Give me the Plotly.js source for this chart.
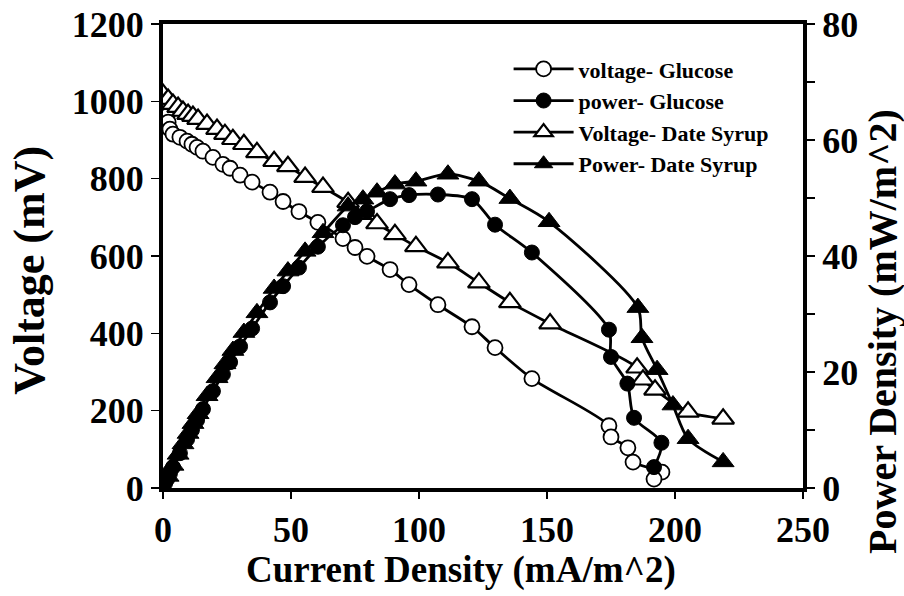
<!DOCTYPE html>
<html>
<head>
<meta charset="utf-8">
<script src="https://cdn.plot.ly/plotly-3.0.1.min.js"></script>
<style>body{margin:0;background:#fff}#chart{width:904px;height:596px}</style>
</head>
<body>
<div id="chart"></div>
<script>
// Current density (mA/m^2) and values
const glucoseCurrent = [0, 0.8, 1.6, 2.0, 2.7, 3.9, 6.6, 9.4, 11.3, 13.3, 15.6, 19.5, 23.4, 26.2, 30.1, 34.8, 41.8, 46.9, 53.1, 60.5, 70.3, 75.0, 79.7, 88.7, 96.1, 107.4, 120.7, 129.7, 144.1, 174.2, 175.0, 181.4, 184.0, 194.7, 191.8];
const glucoseVoltage = [975, 962, 946, 928, 915, 907, 897, 889, 881, 871, 855, 837, 827, 809, 791, 765, 741, 715, 687, 645, 622, 599, 565, 526, 474, 417, 363, 283, 161, 132, 104, 67, 41, 23];
const glucoseVoltageX = [0.8, 1.6, 2.0, 2.7, 3.9, 6.6, 9.4, 11.3, 13.3, 15.6, 19.5, 23.4, 26.2, 30.1, 34.8, 41.8, 46.9, 53.1, 60.5, 70.3, 75.0, 79.7, 88.7, 96.1, 107.4, 120.7, 129.7, 144.1, 174.2, 175.0, 181.6, 183.6, 194.9, 191.8];
const glucosePower = [0, 0.8, 1.5, 1.9, 2.5, 3.6, 6.0, 8.4, 10.0, 11.7, 13.6, 16.7, 19.6, 21.7, 24.4, 27.5, 32.0, 34.8, 38.0, 41.6, 45.3, 46.7, 47.7, 49.8, 50.5, 50.6, 49.8, 45.4, 40.6, 27.3, 22.6, 18.0, 12.1, 7.8, 3.6];

const syrupVoltageX = [0, 2.0, 3.9, 5.9, 7.8, 9.8, 11.7, 13.7, 17.2, 21.1, 24.2, 27.3, 31.6, 36.7, 43.4, 48.8, 55.5, 62.5, 72.3, 78.9, 83.6, 90.6, 98.8, 111.3, 123.4, 135.5, 151.2, 185.2, 187.5, 192.2, 205.1, 218.8];
const syrupVoltage = [1019, 1006, 993, 985, 975, 967, 962, 954, 941, 928, 915, 902, 889, 868, 845, 832, 804, 778, 739, 708, 684, 656, 625, 583, 531, 480, 425, 311, 280, 254, 197, 179];
const syrupPowerX = [0, 2.0, 3.9, 5.9, 7.8, 9.8, 11.7, 13.7, 17.2, 21.1, 24.2, 27.3, 31.6, 36.7, 43.4, 48.8, 55.5, 62.5, 72.3, 78.1, 83.6, 90.6, 98.8, 111.3, 123.4, 135.5, 150.8, 185.5, 187.1, 193.0, 199.2, 205.1, 218.8];
const syrupPower = [0, 2.0, 3.9, 5.8, 7.6, 9.4, 11.1, 12.8, 15.9, 19.0, 21.4, 23.7, 26.8, 30.2, 34.4, 37.4, 40.8, 44.0, 48.6, 49.8, 51.0, 52.4, 52.9, 54.1, 52.9, 49.9, 45.9, 31.1, 25.9, 20.4, 14.3, 8.5, 4.5];

const seriesNames = ["voltage- Glucose", "power- Glucose", "Voltage- Date Syrup", "Power- Date Syrup"];
const xTicks = [0, 50, 100, 150, 200, 250];
const xTitle = 'Current Density (mA/m^2)';
const yTitle = 'Voltage (mV)';
const y2Title = 'Power Density (mW/m^2)';

const FONT = "'Liberation Serif', 'Times New Roman', serif";
const lineStyle = {color: '#000', width: 2.8, shape: 'spline', smoothing: 0.8};

const traces = [
  {x: glucoseVoltageX, y: glucoseVoltage, name: seriesNames[0], yaxis: 'y', mode: 'lines+markers',
   line: lineStyle, marker: {symbol: 'circle', size: 15, color: '#fff', line: {color: '#000', width: 1.8}}},
  {x: glucoseCurrent, y: glucosePower, name: seriesNames[1], yaxis: 'y2', mode: 'lines+markers',
   line: lineStyle, marker: {symbol: 'circle', size: 15, color: '#000', line: {color: '#000', width: 1}}},
  {x: syrupVoltageX, y: syrupVoltage, name: seriesNames[2], yaxis: 'y', mode: 'lines+markers',
   line: lineStyle, marker: {symbol: 'triangle-up', size: 19, color: '#fff', line: {color: '#000', width: 2.2}}},
  {x: syrupPowerX, y: syrupPower, name: seriesNames[3], yaxis: 'y2', mode: 'lines+markers',
   line: lineStyle, marker: {symbol: 'triangle-up', size: 19, color: '#000', line: {color: '#000', width: 1}}}
];

const tickFont = {family: FONT, size: 36, color: '#000', weight: 'bold'};
const boldFont = (s) => ({family: FONT, size: s, color: '#000', weight: 'bold'});

const layout = {
  width: 904, height: 596,
  margin: {l: 163, r: 101, t: 24, b: 108},
  paper_bgcolor: '#fff', plot_bgcolor: '#fff',
  showlegend: true,
  legend: {x: 0.54, y: 0.948, xanchor: 'left', yanchor: 'top', bgcolor: 'rgba(0,0,0,0)',
    font: boldFont(22), tracegroupgap: 0, itemwidth: 60},
  xaxis: {range: [0, 250], tickvals: xTicks, ticks: 'outside', ticklen: 7, tickwidth: 1.5, tickcolor: '#000',
    showline: true, linewidth: 4, linecolor: '#000', mirror: true, showgrid: false, zeroline: false,
    tickfont: tickFont},
  yaxis: {range: [0, 1200], dtick: 200, ticks: 'outside', ticklen: 8, tickwidth: 1.5, tickcolor: '#000',
    showline: true, linewidth: 4, linecolor: '#000', showgrid: false, zeroline: false,
    tickfont: tickFont},
  yaxis2: {range: [0, 80], dtick: 20, overlaying: 'y', side: 'right', ticks: 'outside', ticklen: 8, tickwidth: 1.5, tickcolor: '#000',
    minor: {dtick: 10, ticks: 'outside', ticklen: 8, tickwidth: 1.5, tickcolor: '#000'},
    showline: true, linewidth: 4, linecolor: '#000', showgrid: false, zeroline: false,
    tickfont: tickFont},
  annotations: [
    {text: xTitle, xref: 'paper', yref: 'paper', x: 0.466, y: -0.177, xanchor: 'center', yanchor: 'middle',
     showarrow: false, font: boldFont(37)},
    {text: yTitle, xref: 'paper', yref: 'paper', x: -0.208, y: 0.47, xanchor: 'center', yanchor: 'middle',
     textangle: -90, showarrow: false, font: boldFont(44)},
    {text: y2Title, xref: 'paper', yref: 'paper', x: 1.123, y: 0.338, xanchor: 'center', yanchor: 'middle',
     textangle: -90, showarrow: false, font: boldFont(40)}
  ]
};

Plotly.newPlot('chart', traces, layout, {displayModeBar: false, staticPlot: true});
</script>
</body>
</html>
